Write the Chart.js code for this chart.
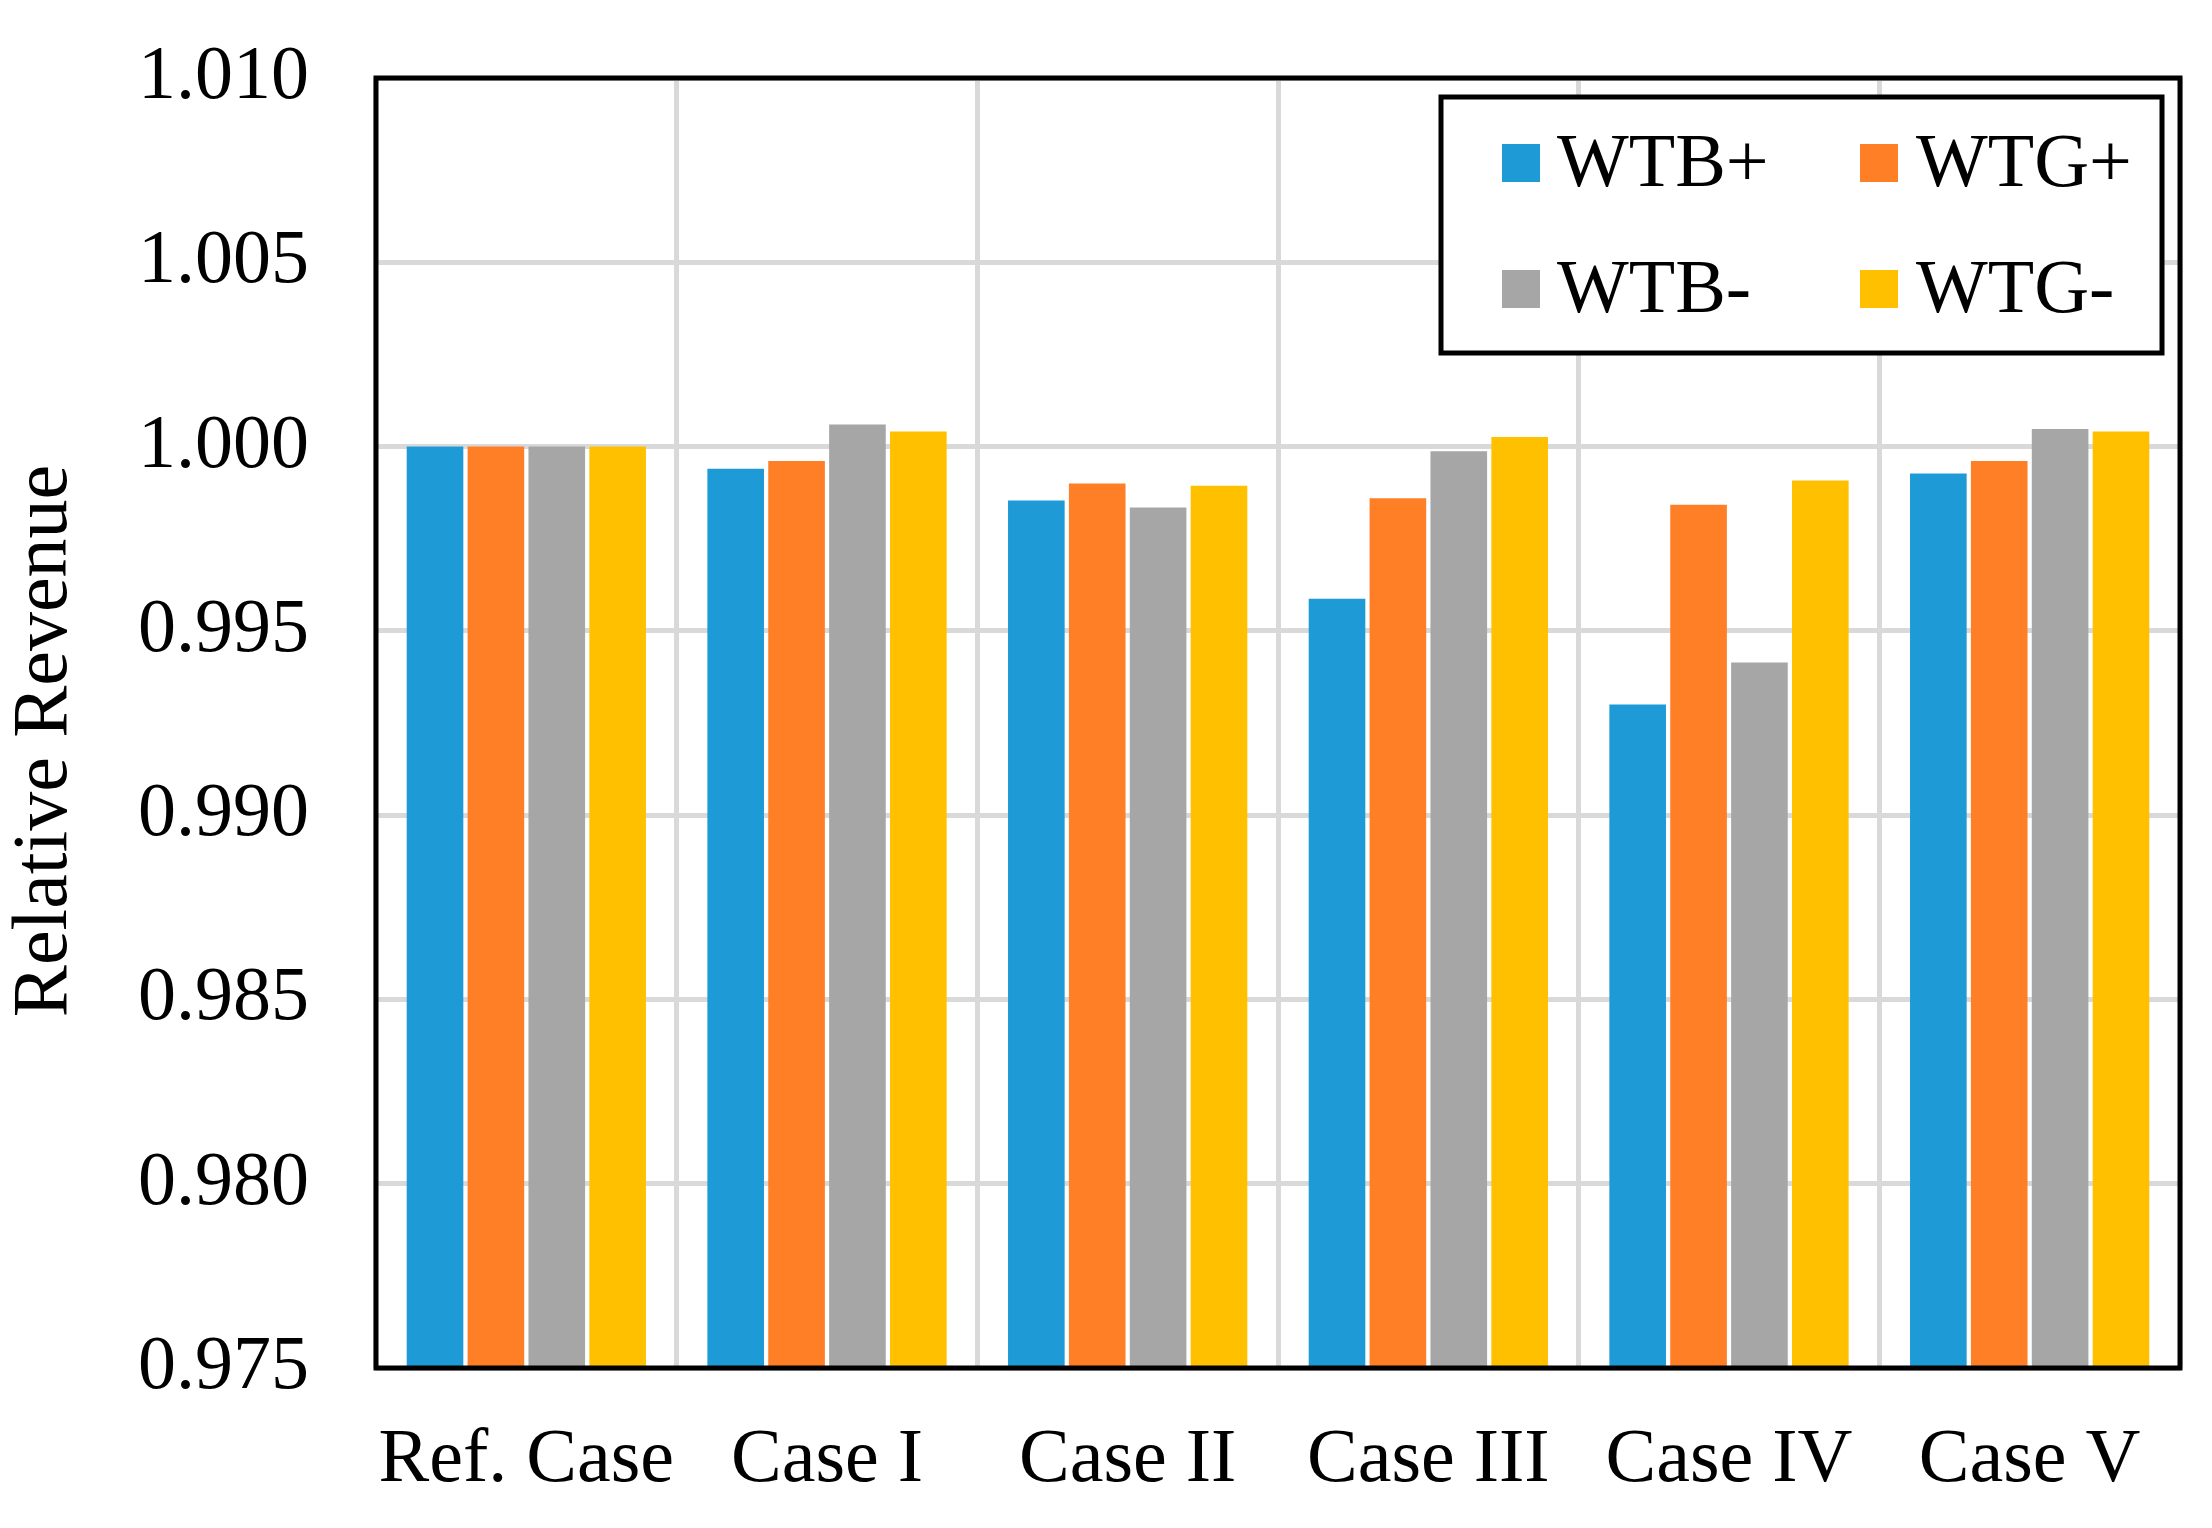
<!DOCTYPE html>
<html>
<head>
<meta charset="utf-8">
<script src="https://cdn.jsdelivr.net/npm/chart.js@4/dist/chart.umd.min.js"></script>
<style>
html,body{margin:0;padding:0;background:#fff;}
canvas{display:block;}
</style>
</head>
<body>
<canvas id="c" width="2212" height="1528"></canvas>
<script>
const categories = ["Ref. Case", "Case I", "Case II", "Case III", "Case IV", "Case V"];
const seriesNames = ["WTB+", "WTG+", "WTB-", "WTG-"];
const wtbPlus  = [1.0000, 0.99940, 0.99854, 0.99587, 0.99300, 0.99927];
const wtgPlus  = [1.0000, 0.99961, 0.99900, 0.99860, 0.99842, 0.99961];
const wtbMinus = [1.0000, 1.00060, 0.99835, 0.99987, 0.99414, 1.00048];
const wtgMinus = [1.0000, 1.00041, 0.99894, 1.00026, 0.99908, 1.00041];
const colors = ["#1E9BD7", "#FF7F27", "#A6A6A6", "#FFC000"];
const yTicks = [0.975, 0.980, 0.985, 0.990, 0.995, 1.000, 1.005, 1.010];
const yTitle = "Relative Revenue";

const FONT = "'Liberation Serif', 'Times New Roman', serif";

const frameAndLegend = {
  id: 'frameAndLegend',
  afterDraw(chart) {
    const ctx = chart.ctx;
    const a = chart.chartArea;
    ctx.save();
    ctx.strokeStyle = '#000';
    ctx.lineWidth = 5;
    ctx.strokeRect(a.left, a.top, a.right - a.left, a.bottom - a.top);
    // y axis title
    ctx.save();
    ctx.translate(46, (a.top + a.bottom) / 2 + 18);
    ctx.rotate(-Math.PI / 2);
    ctx.font = "78px " + FONT;
    ctx.fillStyle = '#000';
    ctx.textAlign = 'center';
    ctx.textBaseline = 'middle';
    ctx.fillText(yTitle, 0, 0);
    ctx.restore();
    // legend
    const bw = 721, bh = 256;
    const bx = a.right - 18 - bw, by = a.top + 19;
    ctx.fillStyle = '#fff';
    ctx.fillRect(bx, by, bw, bh);
    ctx.lineWidth = 5;
    ctx.strokeRect(bx, by, bw, bh);
    const colMarker = [61, 419], colText = [116, 475], rowY = [66, 192];
    const sz = 38;
    ctx.font = "76px " + FONT;
    ctx.textBaseline = 'middle';
    ctx.textAlign = 'left';
    chart.data.datasets.forEach((ds, i) => {
      const r = Math.floor(i / 2), c = i % 2;
      const cy = by + rowY[r];
      ctx.fillStyle = ds.backgroundColor;
      ctx.fillRect(bx + colMarker[c], cy - sz / 2, sz, sz);
      ctx.fillStyle = '#000';
      ctx.fillText(ds.label, bx + colText[c], cy + 3);
    });
    ctx.restore();
  }
};

const seriesData = [wtbPlus, wtgPlus, wtbMinus, wtgMinus];

new Chart(document.getElementById('c'), {
  type: 'bar',
  data: {
    labels: categories,
    datasets: seriesNames.map((n, i) => ({
      label: n,
      data: seriesData[i],
      backgroundColor: colors[i],
      borderWidth: 0,
      barPercentage: 0.93,
      categoryPercentage: 0.81
    }))
  },
  options: {
    responsive: false,
    animation: false,
    devicePixelRatio: 1,
    layout: { autoPadding: false, padding: { left: 0, right: 32, top: 78, bottom: 0 } },
    plugins: {
      legend: { display: false },
      tooltip: { enabled: false }
    },
    scales: {
      x: {
        grid: { display: true, offset: true, color: '#D9D9D9', lineWidth: 5, drawTicks: false },
        border: { display: false },
        ticks: { color: '#000', font: { family: FONT, size: 76 }, padding: 47, maxRotation: 0 },
        afterFit(s) { s.height = 160; s.paddingLeft = 0; s.paddingRight = 0; }
      },
      y: {
        min: 0.975,
        max: 1.010,
        grid: { color: '#D9D9D9', lineWidth: 5, drawTicks: false },
        border: { display: false },
        afterBuildTicks(s) { s.ticks = yTicks.map(v => ({ value: v })); },
        ticks: {
          color: '#000',
          font: { family: FONT, size: 76 },
          padding: 67,
          callback: v => Number(v).toFixed(3)
        },
        title: { display: false },
        afterFit(s) { s.width = 376; s.paddingTop = 0; s.paddingBottom = 0; }
      }
    }
  },
  plugins: [frameAndLegend]
});
</script>
</body>
</html>
